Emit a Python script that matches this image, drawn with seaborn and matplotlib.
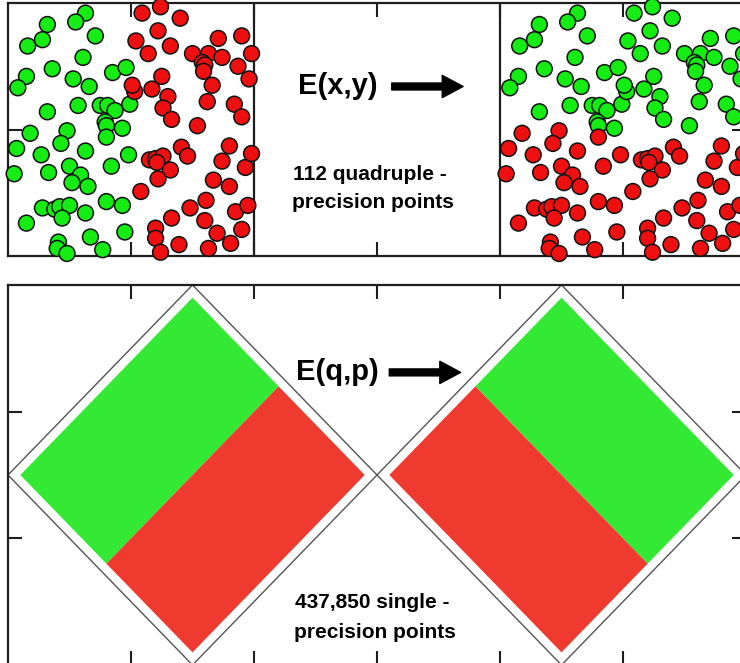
import numpy as np
import pandas as pd
import matplotlib
matplotlib.use("Agg")
import matplotlib.pyplot as plt
import seaborn as sns

# ---- 112 quadruple-precision points, coordinates inside the unit cell [-1, 1] x [-1, 1]
cell_x = [
    -0.37, -0.45, -0.68, -0.72, -0.84, -0.29, -0.39, -0.64, -0.85, -0.92,
    -0.47, -0.34, -0.15, -0.04, -0.68, -0.43, -0.25, -0.19, -0.13, -0.01,
    -0.21, -0.20, -0.20, -0.07, -0.82, -0.52, -0.57, -0.93, -0.73, -0.37,
    -0.02, -0.95, -0.67, -0.50, -0.41, -0.48, -0.35, -0.16, -0.72, -0.62,
    -0.58, -0.50, -0.56, -0.37, -0.20, -0.07, -0.85, -0.33, -0.05, -0.59,
    -0.60, -0.52, -0.23,
    0.09, 0.24, 0.40, 0.22, 0.04, 0.32, 0.14, 0.71, 0.90, 0.50,
    0.63, 0.58, 0.60, 0.59, 0.74, 0.87, 0.98, 0.96, 0.25, 0.17,
    0.03, 0.30, 0.66, 0.62, 0.84, 0.90, 0.26, 0.33, 0.54, 0.41,
    0.46, 0.15, 0.20, 0.26, 0.21, 0.32, 0.22, 0.08, 0.80, 0.74,
    0.93, 0.98, 0.67, 0.80, 0.61, 0.48, 0.33, 0.20, 0.20, 0.24,
    0.39, 0.60, 0.70, 0.63, 0.81, 0.85, 0.95, 0.90, 0.01,
]
cell_y = [
    0.92, 0.85, 0.83, 0.71, 0.66, 0.74, 0.57, 0.48, 0.42, 0.33,
    0.40, 0.34, 0.45, 0.49, 0.14, 0.19, 0.19, 0.19, 0.15, 0.20,
    0.06, 0.03, -0.06, 0.01, -0.03, -0.01, -0.11, -0.15, -0.20, -0.17,
    -0.20, -0.35, -0.34, -0.29, -0.36, -0.42, -0.45, -0.29, -0.62, -0.63,
    -0.61, -0.60, -0.70, -0.66, -0.57, -0.60, -0.74, -0.85, -0.81, -0.89,
    -0.94, -0.98, -0.95,
    0.92, 0.97, 0.88, 0.78, 0.70, 0.66, 0.60, 0.72, 0.74, 0.60,
    0.60, 0.53, 0.51, 0.46, 0.57, 0.50, 0.60, 0.40, 0.42, 0.32,
    0.30, 0.26, 0.35, 0.22, 0.20, 0.10, 0.17, 0.08, 0.03, -0.14,
    -0.21, -0.24, -0.23, -0.21, -0.26, -0.32, -0.39, -0.49, -0.13, -0.25,
    -0.30, -0.19, -0.40, -0.45, -0.56, -0.62, -0.70, -0.78, -0.86, -0.97,
    -0.91, -0.72, -0.82, -0.94, -0.90, -0.65, -0.60, -0.79, 0.35,
]

# ---- 437,850 single-precision points fill a rotated square in each phase-space cell
cell_centers = [-1.5, 1.5]
boundary_halfdiag = 1.5
cloud_halfdiag = 1.40

GREEN = "#14ec14"
RED = "#ee1010"
CLOUD_GREEN = "#33e933"
CLOUD_RED = "#ef3a30"
INK = "#1e1e1e"

sns.set_theme(style="white")
plt.rcParams["font.family"] = ["Liberation Sans", "DejaVu Sans"]

W, H = 740, 663
fig = plt.figure(figsize=(W / 100, H / 100), dpi=100)
fig.patch.set_facecolor("white")

# ---------------- top panel: E(x,y) acting on the 112 points ----------------
ax1 = fig.add_axes([8 / W, 1 - 256 / H, 738 / W, 253 / H])
ax1.set_xlim(-3, 3)
ax1.set_ylim(-1, 1)

cx = np.array(cell_x)
cy = np.array(cell_y)
before = pd.DataFrame({"x": cx - 2, "y": cy,
                       "state": np.where(cx < 0, "green", "red")})
after = pd.DataFrame({"x": cx + 2, "y": cy,
                      "state": np.where(cy > 0, "green", "red")})
pal = {"green": GREEN, "red": RED}
for df in (before, after):
    sns.scatterplot(data=df, x="x", y="y", hue="state", palette=pal,
                    s=130, edgecolor="#111111", linewidth=1.1, alpha=1,
                    legend=False, ax=ax1, zorder=3, clip_on=False)

for xv in (-1, 1):
    ax1.axvline(xv, color=INK, lw=1.6, zorder=2)

ax1.set_xticks([-2, -1, 0, 1, 2])
ax1.set_yticks([0])

ARROW = "simple,head_width=1.6,head_length=1.5,tail_width=0.5"

ax1.text(-0.32, 0.34, "E(x,y)", ha="center", va="center",
         fontsize=21, fontweight="bold", color="black")
ax1.annotate("", xy=(0.70, 0.34), xytext=(0.12, 0.34),
             arrowprops=dict(arrowstyle=ARROW, mutation_scale=10,
                             color="black", shrinkA=0, shrinkB=0))
ax1.text(-0.06, -0.355, "112 quadruple -", ha="center", va="center",
         fontsize=15, fontweight="bold", color="black")
ax1.text(-0.03, -0.575, "precision points", ha="center", va="center",
         fontsize=15, fontweight="bold", color="black")

# ---------------- bottom panel: E(q,p) acting on the dense cloud ----------------
ax2 = fig.add_axes([8 / W, -2 / H, 738 / W, 380 / H])
ax2.set_xlim(-3, 3)
ax2.set_ylim(-1.5, 1.5)

def diamond(c, h):
    return np.array([[c, h], [c + h, 0], [c, -h], [c - h, 0]])

for k, c in enumerate(cell_centers):
    b = diamond(c, boundary_halfdiag)
    ax2.plot(np.r_[b[:, 0], b[0, 0]], np.r_[b[:, 1], b[0, 1]],
             color="#555555", lw=1.0, zorder=2)
    T, R, B, L = diamond(c, cloud_halfdiag)
    if k == 0:
        # split along the line joining the midpoints of edges T-R and L-B
        m1, m2 = (T + R) / 2, (L + B) / 2
        green_poly = [T, m1, m2, L]
        red_poly = [m1, R, B, m2]
    else:
        # split along the line joining the midpoints of edges L-T and R-B
        m1, m2 = (L + T) / 2, (R + B) / 2
        green_poly = [T, R, m2, m1]
        red_poly = [m1, m2, B, L]
    gp = np.array(green_poly)
    rp = np.array(red_poly)
    ax2.fill(gp[:, 0], gp[:, 1], color=CLOUD_GREEN, lw=0, zorder=1)
    ax2.fill(rp[:, 0], rp[:, 1], color=CLOUD_RED, lw=0, zorder=1)

ax2.set_xticks([-2, -1, 0, 1, 2])
ax2.set_yticks([-0.5, 0.5])

ax2.text(-0.32, 0.81, "E(q,p)", ha="center", va="center",
         fontsize=21, fontweight="bold", color="black")
ax2.annotate("", xy=(0.68, 0.81), xytext=(0.10, 0.81),
             arrowprops=dict(arrowstyle=ARROW, mutation_scale=10,
                             color="black", shrinkA=0, shrinkB=0))
ax2.text(-0.04, -1.01, "437,850 single -", ha="center", va="center",
         fontsize=15, fontweight="bold", color="black")
ax2.text(-0.02, -1.24, "precision points", ha="center", va="center",
         fontsize=15, fontweight="bold", color="black")

for ax in (ax1, ax2):
    ax.set_facecolor("white")
    ax.set_xlabel("")
    ax.set_ylabel("")
    for sp in ax.spines.values():
        sp.set_visible(True)
        sp.set_color(INK)
        sp.set_linewidth(1.6)
    ax.tick_params(direction="in", length=10, width=1.5, color=INK,
                   top=True, right=True, bottom=True, left=True,
                   labelbottom=False, labelleft=False,
                   labeltop=False, labelright=False)

fig.savefig("out.png", dpi=100, facecolor="white")
